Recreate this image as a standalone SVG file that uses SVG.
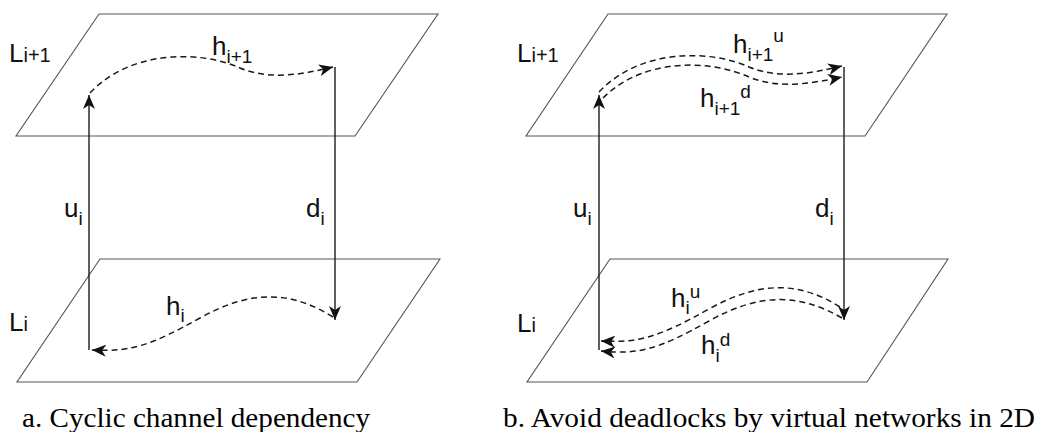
<svg xmlns="http://www.w3.org/2000/svg" width="1040" height="432" viewBox="0 0 1040 432">
<style>
.plane{fill:none;stroke:#555;stroke-width:1.1}
.link{fill:none;stroke:#1a1a1a;stroke-width:1.4}
.dash{fill:none;stroke:#1a1a1a;stroke-width:1.5;stroke-dasharray:6 4}
.lbl{font-family:"Liberation Sans",Arial,sans-serif;fill:#111}
.big{font-size:26px}
.sm{font-size:19px}
.L{font-size:26px}
.Ls{font-size:20px}
.cap{font-family:"Liberation Serif","Times New Roman",serif;font-size:27px;fill:#000}
</style>
<defs>
<marker id="ah" markerUnits="userSpaceOnUse" markerWidth="14" markerHeight="12" refX="14" refY="6" orient="auto" viewBox="0 0 14 12">
<path d="M0,0 L14,6 L0,12 L4,6 z" fill="#111"/>
</marker>
</defs>
<rect width="1040" height="432" fill="#fff"/>

<g id="panel-a">
<g id="a-plane-top"><polygon class="plane" points="99,14 438,14 355,136 16,136"/>
<text class="lbl" x="9" y="62"><tspan class="L">L</tspan><tspan class="Ls">i+1</tspan></text></g>
<g id="a-plane-bottom"><polygon class="plane" points="100,259 440,259 357,382 17,382"/>
<text class="lbl" x="9" y="331"><tspan class="L">L</tspan><tspan class="Ls">i</tspan></text></g>
</g>

<g id="panel-b">
<g id="b-plane-top"><polygon class="plane" points="608,14 947,14 865,136 526,136"/>
<text class="lbl" x="517" y="62"><tspan class="L">L</tspan><tspan class="Ls">i+1</tspan></text></g>
<g id="b-plane-bottom"><polygon class="plane" points="610,259 948,259 867,382 527,382"/>
<text class="lbl" x="517" y="332"><tspan class="L">L</tspan><tspan class="Ls">i</tspan></text></g>
</g>

<g id="connectors">
<line class="link" x1="89" y1="350" x2="89" y2="95" marker-end="url(#ah)"/>
<line class="link" x1="335" y1="67" x2="335" y2="320" marker-end="url(#ah)"/>
<path class="dash" d="M90,93 C130,50 200,50 240,68 C270,80 300,75 333,67" marker-end="url(#ah)"/>
<path class="dash" d="M333,317 C290,290 250,290 200,318 S130,352 92,350" marker-end="url(#ah)"/>
<line class="link" x1="599" y1="350" x2="599" y2="95" marker-end="url(#ah)"/>
<line class="link" x1="844" y1="67" x2="844" y2="320" marker-end="url(#ah)"/>
<path class="dash" d="M599,92 C639,49 709,49 749,67 C779,79 809,74 842,66" marker-end="url(#ah)"/>
<path class="dash" d="M603,98 C643,58 709,59 749,77 C779,89 809,84 842,77" marker-end="url(#ah)"/>
<path class="dash" d="M840,307 C799,281 759,281 709,309 S639,343 601,341" marker-end="url(#ah)"/>
<path class="dash" d="M842,318 C799,293 759,293 709,321 S639,355 601,351" marker-end="url(#ah)"/>
</g>

<g id="labels">
<text class="lbl" x="212" y="55"><tspan class="big">h</tspan><tspan class="sm" dy="8">i+1</tspan></text>
<text class="lbl" x="64" y="217"><tspan class="big">u</tspan><tspan class="sm" dy="8">i</tspan></text>
<text class="lbl" x="306" y="217"><tspan class="big">d</tspan><tspan class="sm" dy="8">i</tspan></text>
<text class="lbl" x="166" y="315"><tspan class="big">h</tspan><tspan class="sm" dy="7">i</tspan></text>

<text class="lbl" x="733" y="53"><tspan class="big">h</tspan><tspan class="sm" dy="8">i+1</tspan><tspan class="sm" dy="-19">u</tspan></text>
<text class="lbl" x="700" y="107"><tspan class="big">h</tspan><tspan class="sm" dy="8">i+1</tspan><tspan class="sm" dy="-17">d</tspan></text>
<text class="lbl" x="573" y="217"><tspan class="big">u</tspan><tspan class="sm" dy="8">i</tspan></text>
<text class="lbl" x="815" y="217"><tspan class="big">d</tspan><tspan class="sm" dy="8">i</tspan></text>
<text class="lbl" x="671" y="307"><tspan class="big">h</tspan><tspan class="sm" dy="7">i</tspan><tspan class="sm" dy="-16">u</tspan></text>
<text class="lbl" x="701" y="354"><tspan class="big">h</tspan><tspan class="sm" dy="8">i</tspan><tspan class="sm" dy="-16">d</tspan></text>
</g>

<g id="captions">
<text class="cap" x="22" y="427" textLength="348" lengthAdjust="spacingAndGlyphs">a. Cyclic channel dependency</text>
<text class="cap" x="503" y="427" textLength="532" lengthAdjust="spacingAndGlyphs">b. Avoid deadlocks by virtual networks in 2D</text>
</g>
</svg>
